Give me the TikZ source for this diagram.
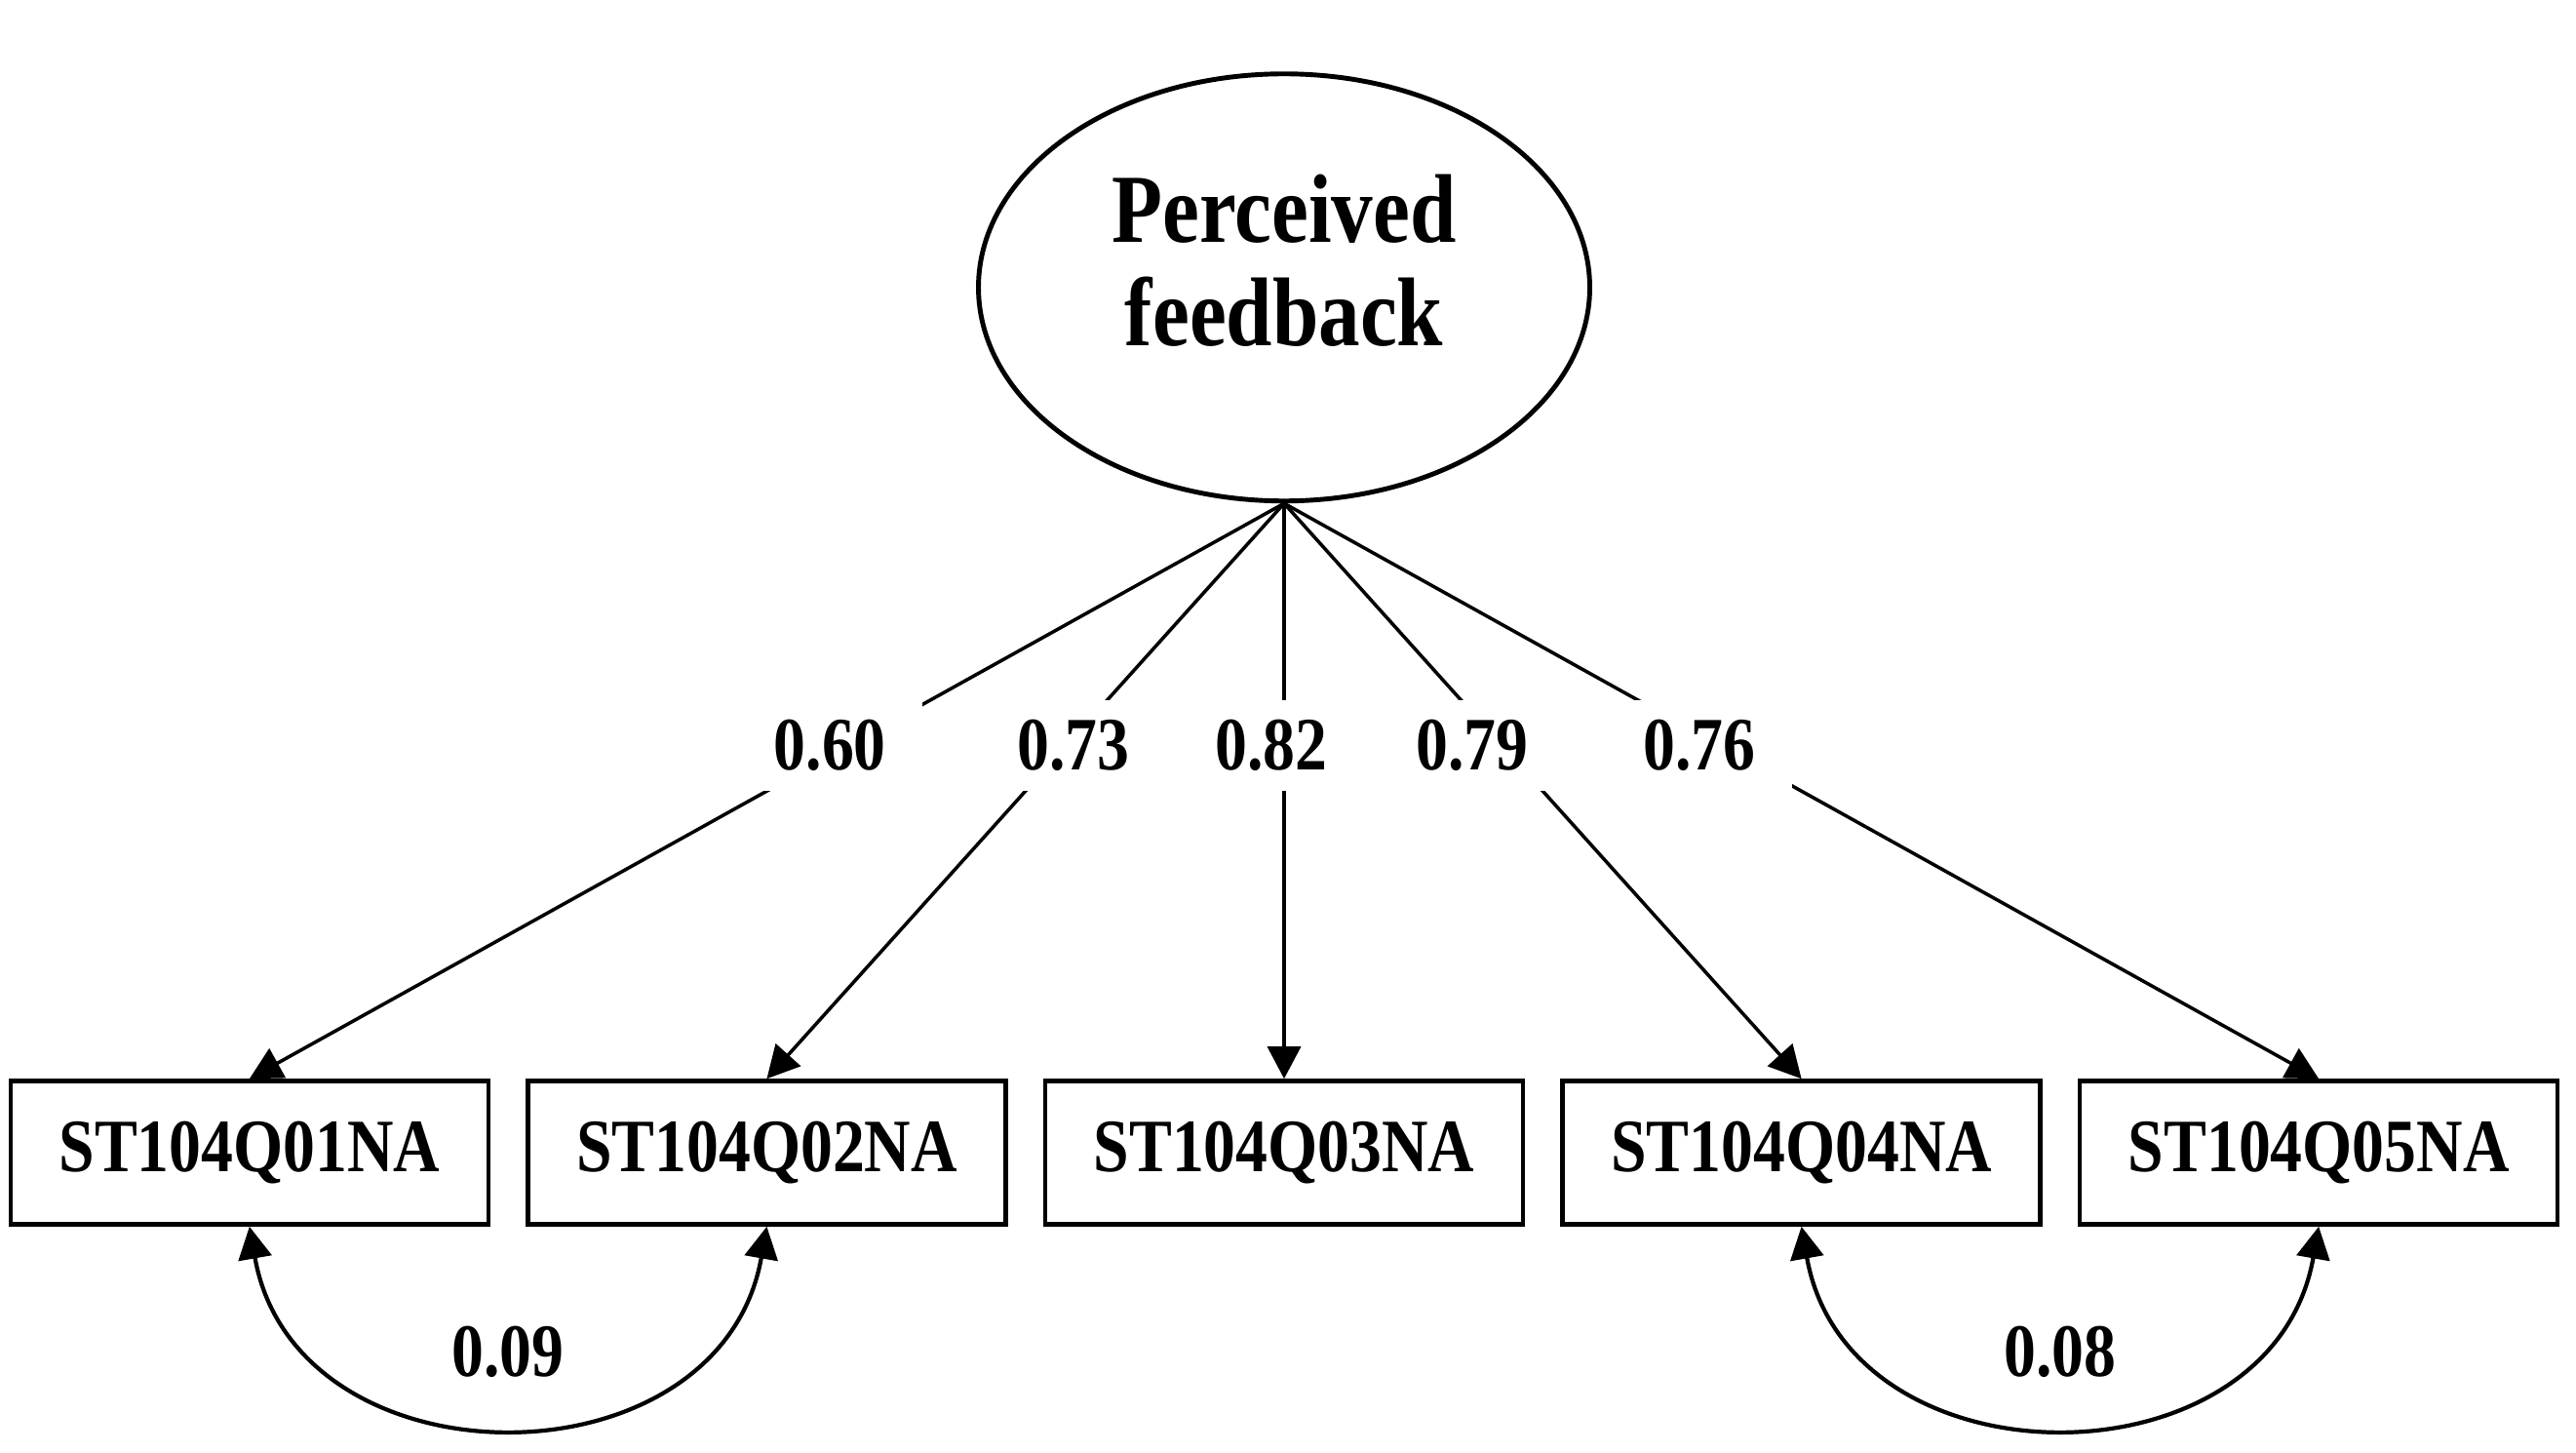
\documentclass[tikz,border=0pt]{standalone}
\usepackage{fontspec}
\setmainfont{Liberation Serif}[FakeStretch=0.85]
\usepackage{tikz}
\usetikzlibrary{matrix, positioning, arrows.meta, shapes}
\tikzset{
latent/.style={
  draw, ellipse,
  line width=1.4pt,
  minimum width=6.27cm,
  minimum height=4.38cm,
  inner sep=0pt,
  align=center,
  text depth=0.56cm,
  font=\bfseries\fontsize{28.5}{30}\selectfont
},
items/.style={
  matrix of nodes,
  column sep=0.36cm,
  nodes={draw, rectangle, line width=1.3pt, minimum width=4.9cm, minimum height=1.47cm,
    font=\bfseries\fontsize{22}{24}\selectfont}
},
loading/.style={fill=white, minimum width=1.9cm, minimum height=0.93cm, inner sep=0pt,
  font=\bfseries\fontsize{22}{24}\selectfont},
covlabel/.style={font=\bfseries\fontsize{22}{24}\selectfont},
path/.style={-{Triangle[length=0.33cm,width=0.34cm]}, line width=1pt},
cov/.style={{Triangle[length=0.33cm,width=0.34cm]}-{Triangle[length=0.33cm,width=0.34cm]}, line width=1.2pt},
}

\begin{document}
\begin{tikzpicture}
                \useasboundingbox (0,0) rectangle (26.42,14.89);
                \matrix (m) [items] at (13.17,3.07) {
                    ST104Q01NA & ST104Q02NA & ST104Q03NA & ST104Q04NA & ST104Q05NA \\
                };
                \node (pf) [latent, above=5.9cm of m-1-3] {Perceived\\feedback};
                \foreach \i/\v/\s in {1/0.60/-0.2, 2/0.73/0.07, 3/0.82/-0.13, 4/0.79/-0.3, 5/0.76/-0.2}
                    \draw[path] (pf.south) -- node[loading, pos=0.42, xshift=\s cm] (l\i) {\v} (m-1-\i.north);
                \draw[cov] (m-1-1.south) to[out=-80, in=-100, looseness=1.33]
                    node[covlabel, above=0.35cm] (c12) {0.09} (m-1-2.south);
                \draw[cov] (m-1-4.south) to[out=-80, in=-100, looseness=1.33]
                    node[covlabel, above=0.35cm] (c45) {0.08} (m-1-5.south);
            \end{tikzpicture}
\end{document}
